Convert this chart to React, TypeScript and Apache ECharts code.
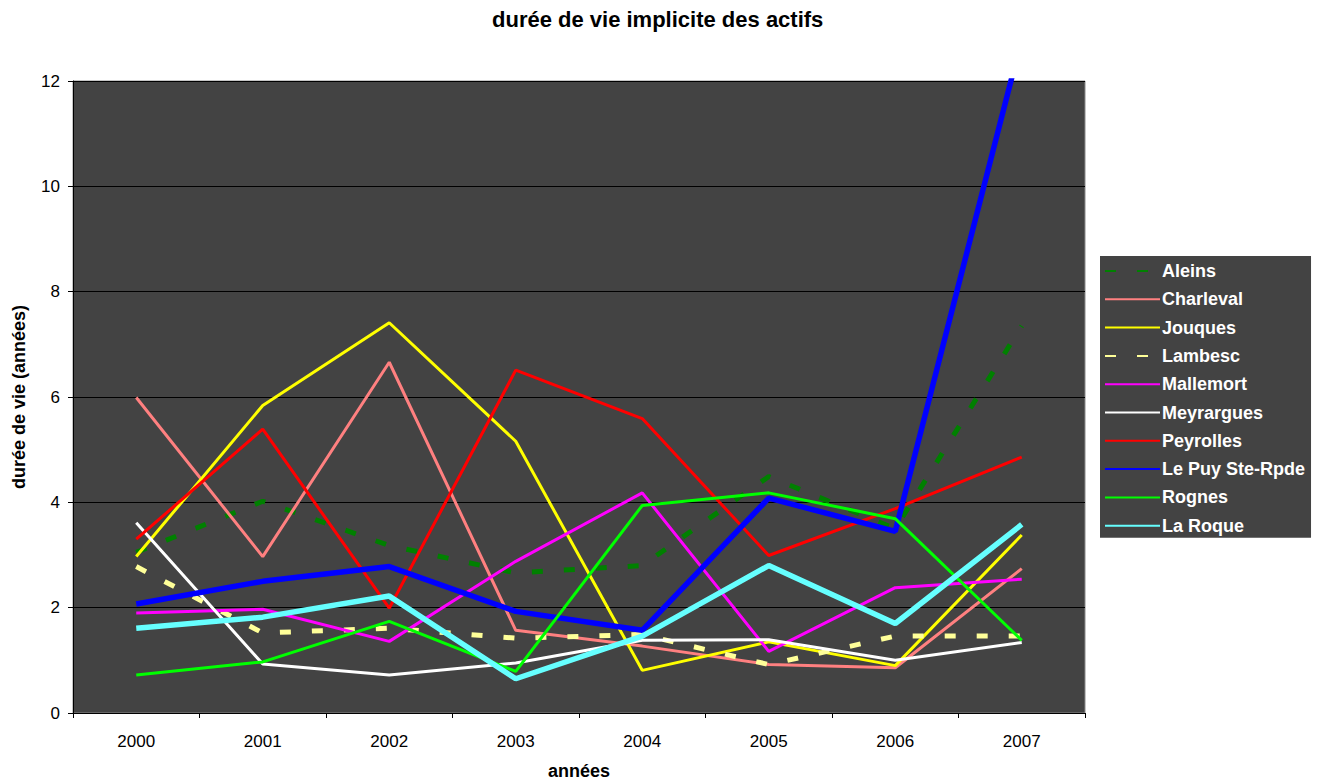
import React, { useEffect, useRef } from "react";
import * as echarts from "echarts";

const years = ["2000", "2001", "2002", "2003", "2004", "2005", "2006", "2007"];
const aleins = [3.05, 4.02, 3.18, 2.66, 2.8, 4.49, 3.5, 7.35];
const charleval = [5.99, 2.97, 6.66, 1.57, 1.27, 0.92, 0.86, 2.74];
const jouques = [2.97, 5.84, 7.41, 5.16, 0.81, 1.35, 0.9, 3.38];
const lambesc = [2.78, 1.52, 1.61, 1.42, 1.49, 0.92, 1.46, 1.46];
const mallemort = [1.9, 1.97, 1.36, 2.88, 4.18, 1.17, 2.38, 2.54];
const meyrargues = [3.61, 0.93, 0.72, 0.95, 1.38, 1.39, 1.0, 1.34];
const peyrolles = [3.3, 5.39, 1.99, 6.51, 5.59, 2.99, 3.88, 4.86];
const lePuy = [2.07, 2.5, 2.78, 1.93, 1.57, 4.08, 3.45, 12.8];
const rognes = [0.72, 0.97, 1.74, 0.79, 3.94, 4.18, 3.69, 1.38];
const laRoque = [1.61, 1.82, 2.22, 0.65, 1.46, 2.8, 1.7, 3.58];
const yTicks = [0, 2, 4, 6, 8, 10, 12];

const FONT = "Arial, 'Liberation Sans', sans-serif";

export default function App() {
  const ref = useRef<HTMLDivElement>(null);
  useEffect(() => {
    if (!ref.current) return;
    const chart = echarts.init(ref.current, null, { renderer: "svg" });
    const mk = (name: string, data: number[], color: string, width: number, type: any = "solid") => ({
      name,
      type: "line",
      data,
      symbol: "none",
      showSymbol: false,
      lineStyle: { color, width, type, cap: "butt" },
      itemStyle: { color },
    });
    chart.setOption({
      animation: false,
      textStyle: { fontFamily: FONT },
      title: {
        text: "durée de vie implicite des actifs",
        left: 487,
        top: 3,
        textStyle: { fontSize: 22, fontWeight: "bold", color: "#000", fontFamily: FONT },
      },
      grid: {
        left: 73,
        width: 1012,
        top: 81,
        height: 632,
        outerBoundsMode: "none",
        containLabel: false,
        show: true,
        backgroundColor: "#434343",
        borderColor: "#8a8a8a",
        borderWidth: 1,
      },
      legend: {
        orient: "vertical",
        left: 1100,
        top: 256,
        backgroundColor: "#434343",
        padding: [6, 6, 3, 4],
        itemWidth: 55,
        itemHeight: 14,
        itemGap: 10.3,
        itemStyle: { opacity: 0 },
        textStyle: { color: "#fff", fontSize: 18, fontWeight: "bold", fontFamily: FONT, padding: [0, 0, 0, -3] },
      },
      xAxis: {
        type: "category",
        data: years,
        boundaryGap: true,
        name: "années",
        nameLocation: "middle",
        nameGap: 49,
        nameTextStyle: { fontSize: 18, fontWeight: "bold", color: "#000" },
        axisLine: { lineStyle: { color: "#000", width: 1 } },
        axisTick: { show: true, length: 5, lineStyle: { color: "#000" } },
        axisLabel: { fontSize: 17, color: "#000", margin: 20 },
        splitLine: { show: false },
      },
      yAxis: {
        type: "value",
        min: yTicks[0],
        max: yTicks[yTicks.length - 1],
        interval: 2,
        name: "durée de vie (années)",
        nameLocation: "middle",
        nameGap: 45,
        nameTextStyle: { fontSize: 18, fontWeight: "bold", color: "#000" },
        axisLine: { show: true, lineStyle: { color: "#000", width: 1 } },
        axisTick: { show: true, length: 5, lineStyle: { color: "#000" } },
        axisLabel: { fontSize: 17, color: "#000", margin: 13 },
        splitLine: { show: true, lineStyle: { color: "#000", width: 1 } },
      },
      series: [
        mk("Aleins", aleins, "#008000", 5, [11, 21]),
        mk("Charleval", charleval, "#ff8080", 3),
        mk("Jouques", jouques, "#ffff00", 3),
        mk("Lambesc", lambesc, "#ffff99", 5, [11, 21]),
        mk("Mallemort", mallemort, "#ff00ff", 3),
        mk("Meyrargues", meyrargues, "#ffffff", 3),
        mk("Peyrolles", peyrolles, "#ff0000", 3),
        mk("Le Puy Ste-Rpde", lePuy, "#0000ff", 5.5),
        mk("Rognes", rognes, "#00ff00", 3),
        mk("La Roque", laRoque, "#66ffff", 5.5),
      ],
    });
    return () => chart.dispose();
  }, []);
  return (
    <div
      ref={ref}
      style={{ position: "fixed", left: 0, top: 0, width: 1323, height: 781, background: "#fff" }}
    />
  );
}
